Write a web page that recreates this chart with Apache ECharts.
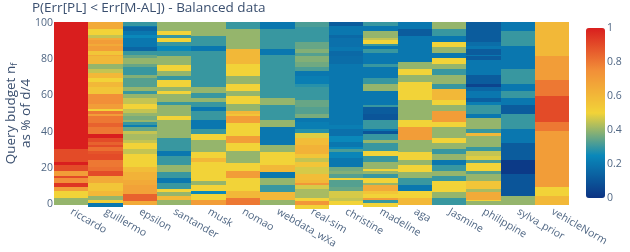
<!DOCTYPE html>
<html><head><meta charset="utf-8">
<style>html,body{margin:0;padding:0;background:#fff}#c{width:630px;height:252px}</style>
<script src="https://cdn.jsdelivr.net/npm/echarts@6/dist/echarts.min.js"></script>
</head><body><div id="c"></div>
<script>
const categories = ['riccardo','guillermo','epsilon','santander','musk','nomao','webdata_wXa','real-sim','christine','madeline','aga','Jasmine','philippine','sylva_prior','vehicleNorm'];
const yTicks = [0,20,40,60,80,100];
const colorStops = ['#0c3383','#0a88ba','#f2d338','#f28f38','#d91e1e'];
const riccardo = [[70,1],[2,.9],[5,.9],[2,1],[3,.9],[3,.7],[1,.9],[3,.75],[2,.95],[2,.7],[4,.5],[4,.4]];
const guillermo = [[4,.65],[3,.5],[2,.45],[1,.65],[2,.7],[1,.65],[3,.7],[2,.55],[1,.65],[4,.6],[3,.4],[2,.45],[3,.6],[2,.5],[3,.6],[4,.55],[5,.75],[3,.7],[1,.5],[2,.8],
  [1,.7],[4,.8],[2,.85],[4,.8],[2,1],[2,.9],[2,.85],[1,.9],[2,.82],[2,.88],[3,.9],[4,.8],[2,.82],[3,.9],[4,.65],[4,.55],[3,.6],[2,.4],[2,.52],[2,.2]];
const epsilon = [[2,.3],[1,.2],[2,.15],[2,.2],[2,.25],[5,.2],[2,.15],[2,.3],[2,.35],[3,.4],[2,.35],[4,.3],[2,.38],[5,.33],[2,.4],[2,.3],[2,.4],[3,.45],[3,.5],[2,.45],[2,.4],
  [2,.37],[1,.4],[2,.3],[1,.22],[2,.35],[2,.45],[3,.42],[2,.45],[3,.5],[3,.45],[7,.5],[3,.58],[4,.62],[3,.65],[5,.68],[4,.85],[2,.65]];
const santander = [[5,.4],[2,.5],[2,.3],[2,.5],[2,.3],[3,.25],[3,.3],[5,.4],[3,.5],[3,.4],[2,.3],[4,.5],[2,.4],[2,.5],[4,.4],[2,.3],[5,.4],
  [1,.4],[2,.5],[10,.4],[7,.3],[3,.2],[5,.3],[4,.4],[3,.3],[3,.2],[3,.3],[2,.5],[2,.4],[2,.6],[3,.4]];
const musk = [[8,.4],[5,.3],[3,.2],[20,.3],[3,.4],[3,.3],[2,.4],[3,.3],[2,.2],[2,.3],
  [3,.3],[5,.2],[3,.3],[3,.5],[7,.4],[3,.5],[2,.6],[11,.5],[2,.4],[3,.5],[2,.25],[3,.5],[3,.7]];
const nomao = [[4,.3],[11,.4],[8,.6],[7,.5],[4,.4],[4,.5],[3,.4],[4,.5],[4,.4],[2,.6],
  [1,.55],[4,.7],[7,.5],[4,.7],[4,.5],[7,.4],[4,.5],[4,.7],[7,.5],[4,.6],[4,.8]];
const webdata = [[4,.2],[11,.3],[3,.2],[24,.3],[4,.4],[5,.3],
  [3,.3],[4,.4],[10,.2],[4,.4],[7,.5],[4,.6],[3,.2],[4,.4],[4,.3],[4,.6],[3,.4]];
const realSim = [[3,.32],[8,.3],[4,.35],[2,.38],[2,.33],[3,.38],[3,.36],[2,.32],[3,.2],[4,.22],[2,.28],[7,.3],[4,.35],[4,.33],
  [2,.37],[2,.2],[4,.22],[2,.28],[3,.48],[4,.58],[5,.62],[2,.55],[2,.45],[3,.55],[4,.47],[3,.58],[2,.6],[1,.72],[2,.47],[5,.42],[2,.5],[2,.72],[2,.5]];
const christine = [[2,.12],[5,.2],[2,.16],[5,.18],[2,.2],[3,.16],[4,.17],[28,.2],
  [6,.2],[2,.22],[4,.18],[3,.25],[3,.2],[1,.25],[2,.32],[3,.24],[5,.2],[2,.36],[2,.38],[2,.33],[1,.5],[4,.33],[2,.35],[4,.47],[2,.45],[2,.5]];
const madeline = [[2,.3],[3,.2],[4,.4],[1,.45],[2,.5],[1,.3],[2,.2],[2,.3],[6,.2],[2,.3],[6,.2],[3,.3],[4,.4],[8,.2],[1,.3],[4,.12],
  [3,.1],[5,.3],[1,.2],[2,.1],[3,.3],[2,.4],[4,.3],[3,.5],[3,.3],[4,.4],[1,.5],[2,.4],[2,.3],[3,.5],[1,.4],[3,.65],[2,.55],[2,.5],[1,.7],[2,.3],[2,.5]];
const aga = [[4,.2],[4,.12],[14,.2],[4,.4],[3,.5],[4,.4],[10,.5],[8,.4],
  [3,.4],[4,.5],[7,.7],[7,.4],[4,.5],[3,.4],[4,.5],[3,.4],[4,.3],[3,.2],[4,.5],[4,.6]];
const jasmine = [[4,.4],[4,.3],[3,.2],[3,.5],[3,.4],[3,.2],[3,.5],[3,.4],[3,.3],[5,.4],[3,.3],[6,.6],[3,.5],[3,.4],[2,.7],
  [4,.7],[3,.5],[6,.4],[3,.5],[3,.4],[3,.3],[3,.4],[3,.2],[3,.3],[3,.4],[3,.3],[6,.5],[3,.4],[4,.3]];
const philippine = [[11,.12],[2,.17],[2,.2],[3,.12],[1,.2],[2,.12],[5,.2],[3,.2],[5,.12],[2,.05],[2,.15],[4,.2],[2,.13],[2,.22],[2,.3],[3,.3],
  [2,.2],[6,.4],[2,.3],[2,.6],[6,.4],[2,.3],[3,.45],[2,.48],[2,.32],[4,.5],[2,.33],[4,.4],[4,.55],[2,.42],[4,.65],[1,.5],[2,.4]];
const sylvaPrior = [[5,.2],[8,.3],[13,.2],[8,.3],[4,.2],[4,.3],[4,.2],[5,.12],
  [8,.3],[8,.2],[9,.12],[8,.02],[12,.1],[5,.4]];
const vehicleNorm = [[19,.6],[13,.7],[9,.8],[10,.9],
  [4,.9],[5,.8],[31,.7],[5,.5],[5,.6]];
const columns = [riccardo,guillermo,epsilon,santander,musk,nomao,webdata,realSim,christine,madeline,aga,jasmine,philippine,sylvaPrior,vehicleNorm];
const rows = Array.from({length:101},(_,i)=>String(i));
const cells = [];
columns.forEach((bands,x)=>{
  let y = 100;
  bands.forEach(([n,v])=>{ for(let k=0;k<n;k++){ cells.push([x,y,v]); y--; } });
});
const font = '"Open Sans", verdana, sans-serif';
const tickColor = '#506784', titleColor = '#3a4f6f';
const chart = echarts.init(document.getElementById('c'),null,{renderer:'canvas'});
chart.setOption({
  animation:false,
  backgroundColor:'#fff',
  title:{text:'P(Err[PL] < Err[M-AL]) - Balanced data',left:27,top:-4,textStyle:{fontFamily:font,fontSize:13.5,fontWeight:'normal',color:titleColor}},
  grid:[
    {left:54,top:22,width:515.5,height:183,outerBoundsMode:'none'},
    {left:586,top:28,width:19,height:170,outerBoundsMode:'none'}
  ],
  xAxis:[
    {type:'category',data:categories,gridIndex:0,axisLine:{show:false},axisTick:{show:false},splitLine:{show:false},
     axisLabel:{interval:0,rotate:-30,margin:6,fontFamily:font,fontSize:10.5,color:tickColor}},
    {type:'value',gridIndex:1,show:false,min:0,max:1}
  ],
  yAxis:[
    {type:'category',data:rows,gridIndex:0,axisLine:{show:false},axisTick:{show:false},splitLine:{show:false},
     axisLabel:{margin:1,interval:(i)=>yTicks.includes(i),fontFamily:font,fontSize:10.5,color:tickColor},
     name:'{a|Query budget n}{s|f}\n{a|as % of d/4}',nameLocation:'middle',nameGap:20,nameRotate:90,nameMoveOverlap:false,
     nameTextStyle:{fontFamily:font,color:titleColor,rich:{a:{fontFamily:font,fontSize:13.5,color:titleColor,lineHeight:15},s:{fontFamily:font,fontSize:9,color:titleColor,verticalAlign:'bottom',lineHeight:9}}}},
    {type:'value',gridIndex:1,position:'right',min:0,max:1,interval:0.2,axisLine:{show:false},axisTick:{show:false},splitLine:{show:false},
     axisLabel:{margin:2,fontFamily:font,fontSize:10.5,color:tickColor}}
  ],
  visualMap:{type:'continuous',seriesIndex:0,dimension:2,min:0,max:1,calculable:false,left:571,top:13,itemWidth:19,itemHeight:170,text:null,showLabel:false,inRange:{color:colorStops},textStyle:{color:'transparent'}},
  series:[{type:'custom',coordinateSystem:'cartesian2d',xAxisIndex:0,yAxisIndex:0,data:cells,encode:{x:0,y:1},silent:true,
    renderItem:(params,api)=>{
      const c = api.coord([api.value(0),api.value(1)]);
      const size = api.size([1,1]);
      const x0 = Math.round(c[0]-size[0]/2), x1 = Math.round(c[0]+size[0]/2);
      const y0 = Math.round(c[1]-size[1]/2), y1 = Math.round(c[1]+size[1]/2);
      return {type:'rect',shape:{x:x0,y:y0,width:x1-x0,height:y1-y0},style:{fill:api.visual('color')}};
    }}]
});
</script></body></html>
